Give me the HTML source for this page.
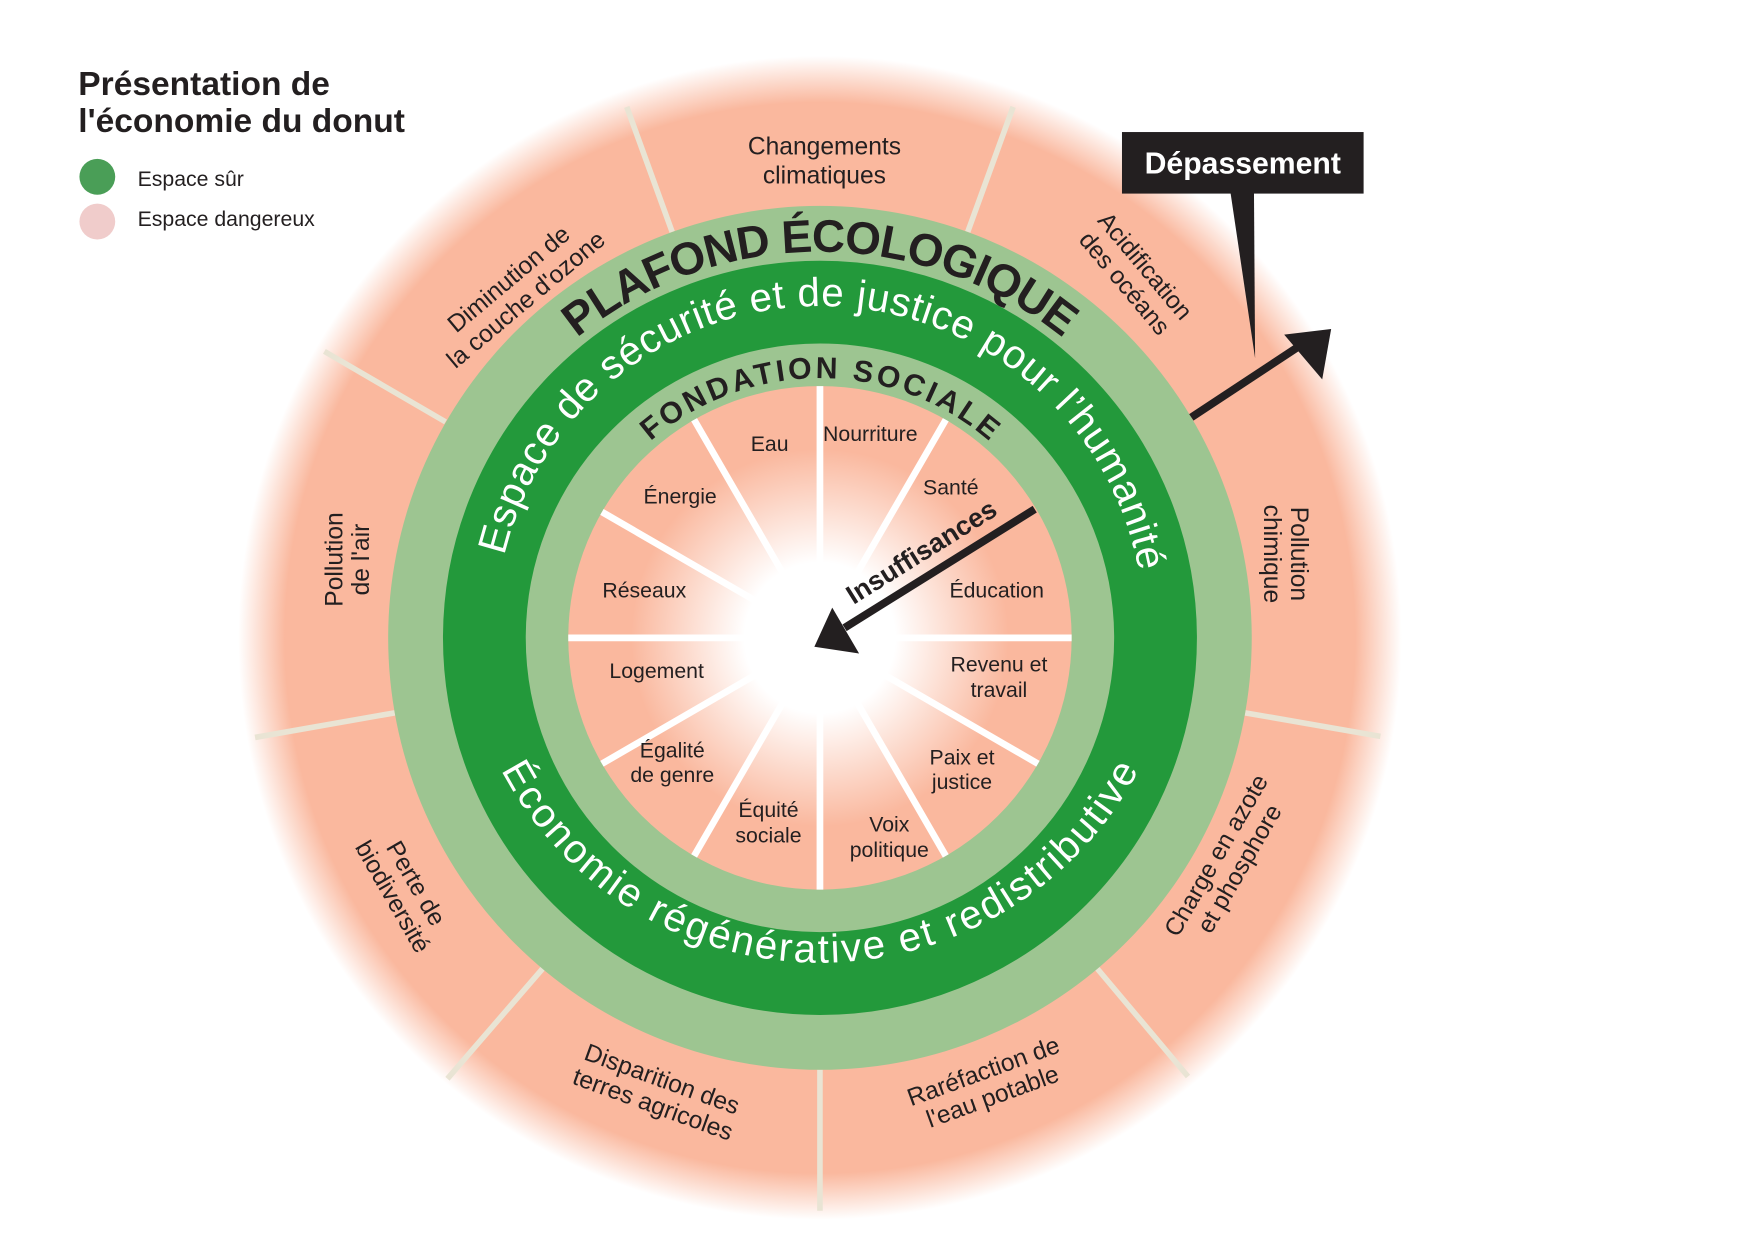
<!DOCTYPE html>
<html><head><meta charset="utf-8"><style>
html,body{margin:0;padding:0;background:#fff;}
svg{display:block;}
text{font-family:"Liberation Sans",sans-serif;}
</style></head><body>
<svg width="1754" height="1241" viewBox="0 0 1568 1109" preserveAspectRatio="none" xmlns="http://www.w3.org/2000/svg">
<defs>
<radialGradient id="outer" cx="733" cy="570" r="520" gradientUnits="userSpaceOnUse">
<stop offset="0" stop-color="#fab89e"/>
<stop offset="0.92" stop-color="#fab89e"/>
<stop offset="1" stop-color="#ffffff"/>
</radialGradient>
<radialGradient id="glow" cx="733" cy="570" r="225" gradientUnits="userSpaceOnUse">
<stop offset="0" stop-color="#fff" stop-opacity="1"/>
<stop offset="0.3" stop-color="#fff" stop-opacity="1"/>
<stop offset="0.75" stop-color="#fff" stop-opacity="0"/>
</radialGradient>
<path id="pPlafond" d="M434.2,397.5 A345,345 0 0 1 1031.8,397.5"/>
<path id="pEspace" d="M549.8,788.3 A290,290 0 1 1 916.2,788.3"/>
<path id="pEco" d="M422.8,624.7 A322,322 0 0 0 1043.2,624.7"/>
<path id="pFond" d="M532.1,686 A232,232 0 1 1 933.9,686"/>
</defs>
<rect width="1568" height="1109" fill="#fff"/>
<circle cx="733" cy="570" r="520" fill="url(#outer)"/>
<g stroke="#e9e4d4" stroke-width="5">
<line x1="600.9" y1="207.3" x2="560.3" y2="95.5"/>
<line x1="865.1" y1="207.3" x2="905.7" y2="95.5"/>
<line x1="398.3" y1="377" x2="290" y2="314"/>
<line x1="352.9" y1="637" x2="228" y2="659"/>
<line x1="485" y1="865.7" x2="400" y2="964"/>
<line x1="733" y1="956" x2="733" y2="1082"/>
<line x1="981" y1="865.7" x2="1062" y2="962"/>
<line x1="1113.1" y1="637" x2="1234" y2="658"/>
</g>
<circle cx="733" cy="570" r="386" fill="#9dc591"/>
<circle cx="733" cy="570" r="300" fill="none" stroke="#23993b" stroke-width="74"/>
<circle cx="733" cy="570" r="225" fill="#fab89e"/>
<g stroke="#fff" stroke-width="6">
<line x1="733" y1="530" x2="733" y2="345"/>
<line x1="753" y1="535" x2="845.5" y2="375.1"/>
<line x1="773" y1="570" x2="958" y2="570"/>
<line x1="768" y1="590" x2="927.9" y2="682.5"/>
<line x1="753" y1="605" x2="845.5" y2="764.9"/>
<line x1="733" y1="610" x2="733" y2="795"/>
<line x1="713" y1="605" x2="620.5" y2="764.9"/>
<line x1="698" y1="590" x2="538.1" y2="682.5"/>
<line x1="693" y1="570" x2="508" y2="570"/>
<line x1="698" y1="550" x2="538.1" y2="457.5"/>
<line x1="713" y1="535" x2="620.5" y2="375.1"/>
</g>
<circle cx="733" cy="570" r="225" fill="url(#glow)"/>

<text font-size="41" font-weight="bold" fill="#231f20"><textPath href="#pPlafond" startOffset="50%" text-anchor="middle" textLength="470" lengthAdjust="spacing">PLAFOND ÉCOLOGIQUE</textPath></text>
<text font-size="36" fill="#fff"><textPath href="#pEspace" startOffset="50.5%" text-anchor="middle" textLength="790" lengthAdjust="spacing">Espace de sécurité et de justice pour l’humanité</textPath></text>
<text font-size="36" fill="#fff"><textPath href="#pEco" startOffset="50%" text-anchor="middle" textLength="700" lengthAdjust="spacing">Économie régénérative et redistributive</textPath></text>
<text font-size="27" font-weight="bold" fill="#231f20"><textPath href="#pFond" startOffset="50%" text-anchor="middle" textLength="330" lengthAdjust="spacing">FONDATION SOCIALE</textPath></text>

<g font-size="19" fill="#231f20" text-anchor="middle">
<text x="688" y="403">Eau</text>
<text x="778" y="394">Nourriture</text>
<text x="850" y="442">Santé</text>
<text x="891" y="534">Éducation</text>
<text x="893" y="600">Revenu et</text><text x="893" y="623">travail</text>
<text x="860" y="683">Paix et</text><text x="860" y="705">justice</text>
<text x="795" y="743">Voix</text><text x="795" y="766">politique</text>
<text x="687" y="730">Équité</text><text x="687" y="753">sociale</text>
<text x="601" y="677">Égalité</text><text x="601" y="699">de genre</text>
<text x="587" y="606">Logement</text>
<text x="576" y="534">Réseaux</text>
<text x="608" y="450">Énergie</text>
</g>

<g font-size="22" fill="#231f20" text-anchor="middle">
<text x="737" y="138">Changements</text><text x="737" y="164">climatiques</text>
<g transform="translate(1015,245) rotate(50)"><text x="0" y="-4">Acidification</text><text x="0" y="20">des océans</text></g>
<g transform="translate(1150,495) rotate(90)"><text x="0" y="-4">Pollution</text><text x="0" y="20">chimique</text></g>
<g transform="translate(1097,770) rotate(-60)"><text x="0" y="-4">Charge en azote</text><text x="0" y="20">et phosphore</text></g>
<g transform="translate(883,968) rotate(-20)"><text x="0" y="-4">Raréfaction de</text><text x="0" y="20">l'eau potable</text></g>
<g transform="translate(588,975) rotate(20)"><text x="0" y="-4">Disparition des</text><text x="0" y="20">terres agricoles</text></g>
<g transform="translate(362,795) rotate(60)"><text x="0" y="-4">Perte de</text><text x="0" y="20">biodiversité</text></g>
<g transform="translate(310,500) rotate(-90)"><text x="0" y="-4">Pollution</text><text x="0" y="20">de l'air</text></g>
<g transform="translate(462,258) rotate(-40)"><text x="0" y="-4">Diminution de</text><text x="0" y="20">la couche d'ozone</text></g>
</g>

<line x1="925" y1="455" x2="755" y2="561" stroke="#231f20" stroke-width="7"/>
<polygon points="728,578 744,543 768,584" fill="#231f20"/>
<text transform="translate(828,500) rotate(-32)" font-size="24" font-weight="bold" fill="#231f20" text-anchor="middle">Insuffisances</text>

<line x1="1065" y1="373" x2="1168" y2="305" stroke="#231f20" stroke-width="7"/>
<polygon points="1190,294 1148,299 1182,339" fill="#231f20"/>
<rect x="1003" y="118" width="216" height="55" fill="#231f20"/>
<polygon points="1100,172 1121,172 1122,320" fill="#231f20"/>
<text x="1111" y="155" font-size="27" font-weight="bold" fill="#fff" text-anchor="middle">Dépassement</text>

<text x="70" y="85" font-size="30" font-weight="bold" fill="#231f20">Présentation de</text>
<text x="70" y="118" font-size="30" font-weight="bold" fill="#231f20">l'économie du donut</text>
<circle cx="87" cy="158" r="16" fill="#4a9e57"/>
<circle cx="87" cy="198" r="16" fill="#f0cccb"/>
<text x="123" y="166" font-size="19" fill="#231f20">Espace sûr</text>
<text x="123" y="202" font-size="19" fill="#231f20">Espace dangereux</text>
</svg>
</body></html>
